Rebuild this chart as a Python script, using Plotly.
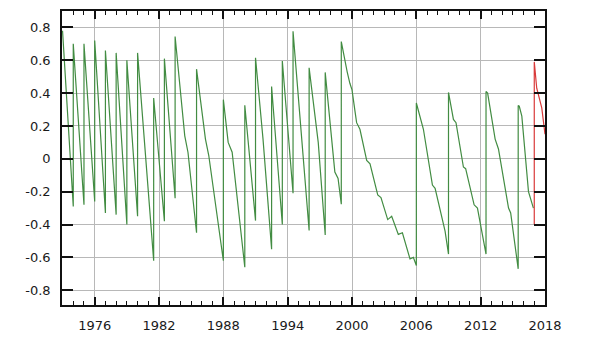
import plotly.graph_objects as go

# Observed series: decimal year and value (s); repeated years mark the +1 s steps
obs_year = [
    1973.0, 1974.0, 1974.0, 1975.0, 1975.0, 1976.0, 1976.0, 1977.0, 1977.0,
    1978.0, 1978.0, 1979.0, 1979.0, 1980.0, 1980.0, 1981.5, 1981.5,
    1982.5, 1982.5, 1983.5, 1983.5, 1984.4, 1984.7, 1985.5, 1985.5,
    1986.33, 1986.64, 1987.5, 1987.7, 1988.0, 1988.0, 1988.45, 1988.82,
    1990.0, 1990.0, 1990.47, 1991.0, 1991.0, 1991.7, 1992.5, 1992.5,
    1993.5, 1993.5, 1994.5, 1994.5, 1996.0, 1996.0, 1996.85, 1997.5, 1997.5,
    1998.4, 1998.7, 1999.0, 1999.0, 1999.3, 1999.55, 1999.8, 2000.0,
    2000.3, 2000.43, 2000.74, 2001.37, 2001.68, 2002.4, 2002.7, 2003.33,
    2003.7, 2004.32, 2004.7, 2005.41, 2005.72, 2006.0, 2006.0,
    2006.35, 2006.66, 2007.5, 2007.75, 2008.68, 2009.0, 2009.0,
    2009.46, 2009.7, 2010.39, 2010.6, 2011.39, 2011.7, 2012.5, 2012.5,
    2012.65, 2013.35, 2013.66, 2014.6, 2014.8, 2015.5, 2015.5,
    2015.6, 2015.84, 2016.46, 2016.77, 2016.92,
]
obs_value = [
    0.78, -0.29, 0.70, -0.28, 0.70, -0.26, 0.72, -0.33, 0.66,
    -0.34, 0.645, -0.40, 0.60, -0.35, 0.645, -0.62, 0.37,
    -0.38, 0.61, -0.24, 0.745, 0.14, 0.04, -0.45, 0.546,
    0.12, 0.02, -0.38, -0.46, -0.62, 0.36, 0.10, 0.04,
    -0.66, 0.326, -0.02, -0.376, 0.615, 0.12, -0.55, 0.44,
    -0.40, 0.596, -0.21, 0.776, -0.436, 0.554, 0.10, -0.464, 0.526,
    -0.08, -0.12, -0.276, 0.714, 0.60, 0.53, 0.46, 0.42,
    0.28, 0.22, 0.18, -0.01, -0.03, -0.22, -0.236, -0.37,
    -0.35, -0.46, -0.45, -0.61, -0.60, -0.65, 0.34,
    0.26, 0.18, -0.16, -0.18, -0.44, -0.58, 0.404,
    0.24, 0.22, -0.05, -0.06, -0.28, -0.30, -0.58, 0.41,
    0.40, 0.12, 0.06, -0.30, -0.33, -0.67, 0.324,
    0.32, 0.26, -0.20, -0.26, -0.30,
]

# Predicted continuation
pred_year = [2017.0, 2017.0, 2017.23, 2017.48, 2017.7, 2018.0]
pred_value = [-0.40, 0.59, 0.43, 0.36, 0.31, 0.15]

# Axis ticks
x_ticks = [1976, 1982, 1988, 1994, 2000, 2006, 2012, 2018]
y_ticks = [-0.8, -0.6, -0.4, -0.2, 0, 0.2, 0.4, 0.6, 0.8]
y_tick_text = ["-0.8", "-0.6", "-0.4", "-0.2", "0", "0.2", "0.4", "0.6", "0.8"]

fig = go.Figure()
fig.add_trace(go.Scatter(
    x=obs_year, y=obs_value, mode="lines",
    line=dict(color="#428c42", width=1.2), showlegend=False,
))
fig.add_trace(go.Scatter(
    x=pred_year, y=pred_value, mode="lines",
    line=dict(color="#d93a3a", width=1.2), showlegend=False,
))

tick_font = dict(family="DejaVu Sans", size=13, color="#1a1a1a")

fig.update_layout(
    width=591, height=342,
    margin=dict(l=62, r=46, t=9, b=35),
    paper_bgcolor="white", plot_bgcolor="white",
    xaxis=dict(
        range=[1972.95, 2018.001],
        tickmode="array", tickvals=x_ticks,
        ticktext=[str(t) for t in x_ticks],
        ticks="inside", ticklen=8, tickwidth=1.5, tickcolor="#111111",
        showline=True, linecolor="#111111", linewidth=1.5, mirror="allticks",
        showgrid=True, gridcolor="#b8b8b8", gridwidth=1,
        zeroline=False, tickfont=tick_font, ticklabelstandoff=8,
        minor=dict(tickmode="linear", tick0=1973, dtick=1, ticks="inside",
                   ticklen=4, tickwidth=1, tickcolor="#111111", showgrid=False),
    ),
    yaxis=dict(
        range=[-0.89, 0.9],
        tickmode="array", tickvals=y_ticks, ticktext=y_tick_text,
        ticks="inside", ticklen=11, tickwidth=1.5, tickcolor="#111111",
        showline=True, linecolor="#111111", linewidth=1.5, mirror="allticks",
        showgrid=True, gridcolor="#b8b8b8", gridwidth=1,
        zeroline=False, tickfont=tick_font, ticklabelstandoff=7,
    ),
)

fig.write_html("out.html")
